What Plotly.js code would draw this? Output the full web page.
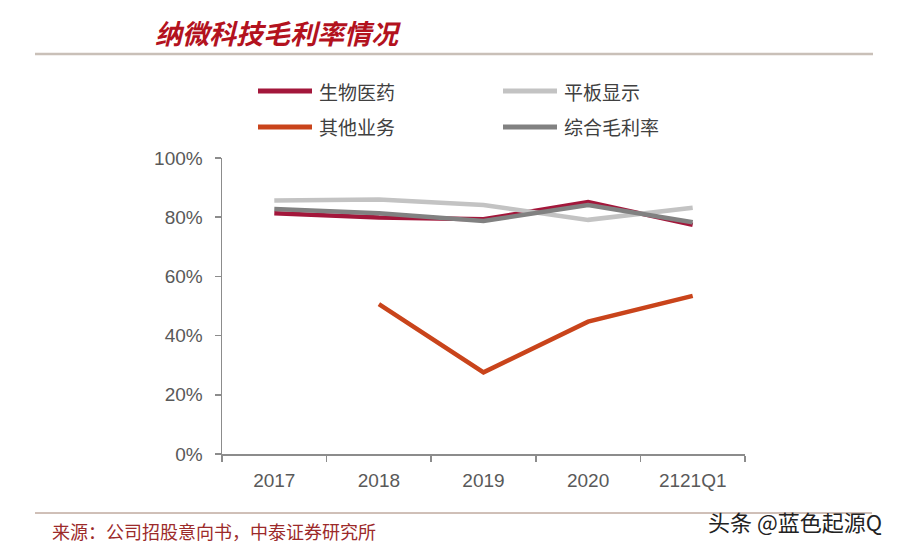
<!DOCTYPE html>
<html>
<head>
<meta charset="utf-8">
<script src="https://cdn.plot.ly/plotly-3.0.1.min.js"></script>
<style>html,body{margin:0;padding:0;background:#fff;}#chart{width:900px;height:551px;}</style>
</head>
<body>
<div id="chart"></div>
<script>
const categories = ['2017', '2018', '2019', '2020', '2121Q1'];
const pharma = [81.3, 79.9, 79.3, 85.1, 77.4];      // 生物医药
const flatPanel = [85.6, 86.0, 84.1, 79.1, 83.2];   // 平板显示
const otherBiz = [null, 50.6, 27.6, 44.7, 53.4];    // 其他业务
const composite = [82.8, 81.3, 78.7, 84.1, 78.3];   // 综合毛利率
const seriesNames = ['生物医药', '平板显示', '其他业务', '综合毛利率'];
const yTicks = [0, 20, 40, 60, 80, 100];
const yTickText = ['0%', '20%', '40%', '60%', '80%', '100%'];

const colors = ['#a3173b', '#c3c3c3', '#c9441b', '#818181'];
const seriesData = [pharma, flatPanel, otherBiz, composite];

const traces = seriesData.map((vals, i) => ({
  type: 'scatter', mode: 'lines', x: categories, y: vals, name: seriesNames[i],
  line: {color: colors[i], width: 4.5}, connectgaps: false, hoverinfo: 'skip', showlegend: false
}));

const L = 222, R = 745, T = 158, B = 454, W = 900, H = 551;
const px = v => (v - L) / (R - L);
const py = v => (B - v) / (B - T);

// custom two-column legend (line sample + label)
const legendPos = [[258, 91], [503, 91], [258, 127], [503, 127]];
const legendShapes = seriesNames.map((n, i) => ({
  type: 'line', xref: 'paper', yref: 'paper',
  x0: px(legendPos[i][0]), x1: px(legendPos[i][0] + 54), y0: py(legendPos[i][1]), y1: py(legendPos[i][1]),
  line: {color: colors[i], width: 5}
}));
const legendLabels = seriesNames.map((n, i) => ({
  xref: 'paper', yref: 'paper', x: px(legendPos[i][0] + 59), y: py(legendPos[i][1]),
  xanchor: 'left', yanchor: 'middle', text: n, showarrow: false,
  font: {family: 'Noto Sans CJK SC', size: 19, color: '#404040'}
}));

const layout = {
  width: W, height: H,
  margin: {l: L, r: W - R, t: T, b: H - B, pad: 0},
  paper_bgcolor: '#ffffff', plot_bgcolor: '#ffffff',
  font: {family: 'Liberation Sans, Arial, sans-serif', color: '#595959'},
  title: {
    text: '纳微科技毛利率情况', xref: 'container', yref: 'container',
    x: 155 / W, xanchor: 'left', y: 1 - 35 / H, yanchor: 'middle',
    font: {family: 'Noto Sans CJK SC', size: 27, color: '#b3121e', style: 'italic', weight: 700}
  },
  showlegend: false,
  xaxis: {
    type: 'category', tickvals: categories, ticktext: categories,
    showline: true, linecolor: '#8c8c8c', linewidth: 1.5,
    ticks: 'outside', tickson: 'boundaries', ticklen: 6, tickcolor: '#8c8c8c', tickwidth: 1.5,
    showgrid: false, zeroline: false, range: [-0.5, 4.5],
    tickfont: {family: 'Liberation Sans, Arial, sans-serif', size: 19, color: '#595959'},
    ticklabelstandoff: 9, fixedrange: true
  },
  yaxis: {
    range: [0, 100], tickvals: yTicks, ticktext: yTickText,
    showline: true, linecolor: '#8c8c8c', linewidth: 1.5,
    ticks: 'outside', ticklen: 6, tickcolor: '#8c8c8c', tickwidth: 1.5,
    showgrid: false, zeroline: false,
    tickfont: {family: 'Liberation Sans, Arial, sans-serif', size: 19, color: '#595959'},
    ticklabelstandoff: 8, fixedrange: true
  },
  shapes: [
    {type: 'line', xref: 'paper', yref: 'paper', x0: px(35), x1: px(873), y0: py(54), y1: py(54),
     line: {color: '#c9c0b8', width: 2.5}},
    {type: 'line', xref: 'paper', yref: 'paper', x0: px(35), x1: px(872), y0: py(513), y1: py(513),
     line: {color: '#a08070', width: 1}}
  ].concat(legendShapes),
  annotations: [
    {xref: 'paper', yref: 'paper', x: px(50), y: py(531), xanchor: 'left', yanchor: 'middle',
     text: '来源：公司招股意向书，中泰证券研究所', showarrow: false,
     font: {family: 'Noto Sans CJK SC', size: 18, color: '#9c2a2a'}},
    {xref: 'paper', yref: 'paper', x: px(884), y: py(521), xanchor: 'right', yanchor: 'middle',
     text: '头条 @蓝色起源Q', showarrow: false,
     font: {family: 'Noto Sans CJK SC', size: 22, color: '#222222'}}
  ].concat(legendLabels)
};
Plotly.newPlot('chart', traces, layout, {displayModeBar: false, staticPlot: true});
</script>
</body>
</html>
